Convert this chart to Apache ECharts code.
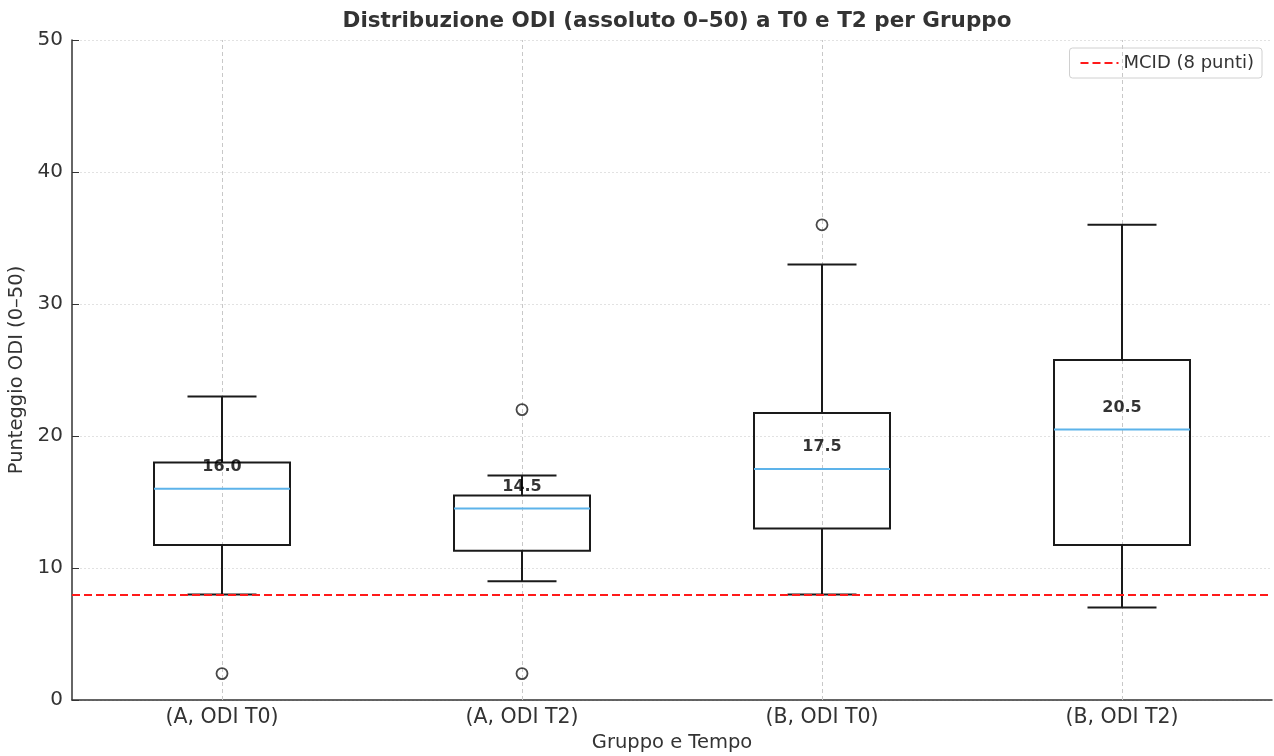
<!DOCTYPE html>
<html>
<head>
<meta charset="utf-8">
<script src="https://cdn.jsdelivr.net/npm/echarts@6/dist/echarts.min.js"></script>
<style>html,body{margin:0;padding:0;background:#fff;}#chart{width:1274px;height:756px;}</style>
</head>
<body>
<div id="chart"></div>
<script>
const categories = ['(A, ODI T0)', '(A, ODI T2)', '(B, ODI T0)', '(B, ODI T2)'];
const whiskerLow = [8, 9, 8, 7];
const q1 = [11.75, 11.3, 13, 11.75];
const medians = [16.0, 14.5, 17.5, 20.5];
const q3 = [18, 15.5, 21.75, 25.75];
const whiskerHigh = [23, 17, 33, 36];
const outliers = [[0, 2], [1, 22], [1, 2], [2, 36]];
const mcid = 8;
const yTicks = { min: 0, max: 50, interval: 10 };

const FONT = 'DejaVu Sans';
const boxData = categories.map((c, i) => [i, whiskerLow[i], q1[i], medians[i], q3[i], whiskerHigh[i]]);
const medianLabels = categories.map((c, i) => [i, medians[i]]);

const chart = echarts.init(document.getElementById('chart'));
chart.setOption({
  animation: false,
  backgroundColor: '#fff',
  textStyle: { fontFamily: FONT },
  title: {
    text: 'Distribuzione ODI (assoluto 0–50) a T0 e T2 per Gruppo',
    left: 672, textAlign: 'center', top: 5,
    textStyle: { fontFamily: FONT, fontSize: 21.5, fontWeight: 'bold', color: '#333' }
  },
  legend: {
    right: 12, top: 48,
    data: [{ name: 'MCID (8 punti)', itemStyle: { opacity: 0 } }],
    borderColor: '#d0d0d0', borderWidth: 1, borderRadius: 3,
    padding: [6, 8, 6, 10],
    itemWidth: 38, itemHeight: 14, itemGap: 10,
    textStyle: { fontFamily: FONT, fontSize: 18, color: '#333' }
  },
  grid: { left: 72, right: 2, top: 40, bottom: 56, containLabel: false, outerBoundsMode: 'none' },
  xAxis: {
    type: 'category',
    data: categories,
    name: 'Gruppo e Tempo',
    nameLocation: 'middle', nameGap: 33,
    nameTextStyle: { fontFamily: FONT, fontSize: 19.5, color: '#333' },
    axisLine: { lineStyle: { color: '#333', width: 1.5 } },
    axisTick: { alignWithLabel: true, inside: true, length: 7, lineStyle: { color: '#333' } },
    axisLabel: { fontFamily: FONT, fontSize: 20.5, color: '#333', margin: 7 },
    splitLine: { show: false }
  },
  yAxis: {
    type: 'value',
    min: yTicks.min, max: yTicks.max, interval: yTicks.interval,
    name: 'Punteggio ODI (0–50)',
    nameLocation: 'middle', nameGap: 43,
    nameTextStyle: { fontFamily: FONT, fontSize: 19.5, color: '#333' },
    axisLine: { show: true, lineStyle: { color: '#333', width: 1.5 } },
    axisTick: { show: true, inside: true, length: 7, lineStyle: { color: '#333' } },
    axisLabel: { fontFamily: FONT, fontSize: 20, color: '#333', margin: 9 },
    splitLine: { show: true, lineStyle: { color: '#e2e2e2', type: [2, 2], width: 1 } }
  },
  series: [
    {
      type: 'custom',
      name: 'box',
      data: boxData,
      z: 3,
      renderItem: function (params, api) {
        const x = api.value(0);
        const band = api.size([1, 0])[0];
        const bw = band * 0.4533;
        const cw = band * 0.23;
        const cx = api.coord([x, 0])[0];
        const yLow = api.coord([x, api.value(1)])[1];
        const yQ1 = api.coord([x, api.value(2)])[1];
        const yMed = api.coord([x, api.value(3)])[1];
        const yQ3 = api.coord([x, api.value(4)])[1];
        const yHigh = api.coord([x, api.value(5)])[1];
        const blk = { stroke: '#1a1a1a', lineWidth: 2, fill: null };
        return {
          type: 'group',
          children: [
            { type: 'line', shape: { x1: cx, y1: yQ3, x2: cx, y2: yHigh }, style: blk },
            { type: 'line', shape: { x1: cx, y1: yQ1, x2: cx, y2: yLow }, style: blk },
            { type: 'line', shape: { x1: cx - cw / 2, y1: yHigh, x2: cx + cw / 2, y2: yHigh }, style: blk },
            { type: 'line', shape: { x1: cx - cw / 2, y1: yLow, x2: cx + cw / 2, y2: yLow }, style: blk },
            { type: 'rect', shape: { x: cx - bw / 2, y: yQ3, width: bw, height: yQ1 - yQ3 }, style: { stroke: '#1a1a1a', lineWidth: 2, fill: 'rgba(0,0,0,0)' } },
            { type: 'line', shape: { x1: cx - bw / 2, y1: yMed, x2: cx + bw / 2, y2: yMed }, style: { stroke: '#5DB3EA', lineWidth: 2 } }
          ]
        };
      }
    },
    {
      type: 'scatter',
      name: 'outliers',
      data: outliers,
      symbol: 'circle',
      symbolSize: 11,
      z: 4,
      itemStyle: { color: 'rgba(0,0,0,0)', borderColor: '#1a1a1a', borderWidth: 1.8 },
      markLine: {
        silent: true, symbol: 'none', z: 1,
        label: { show: false },
        lineStyle: { color: '#c8c8c8', type: [4, 3], width: 1 },
        data: categories.map((c, i) => ({ xAxis: i }))
      }
    },
    {
      type: 'scatter',
      name: 'medianLabels',
      data: medianLabels,
      symbolSize: 0,
      z: 6,
      label: {
        show: true, position: 'top', distance: 14,
        formatter: p => p.value[1].toFixed(1),
        fontFamily: FONT, fontSize: 16, fontWeight: 'bold', color: '#000'
      }
    },
    {
      type: 'line',
      name: 'MCID (8 punti)',
      data: [],
      symbol: 'none',
      showSymbol: false,
      color: '#ff1a1a',
      lineStyle: { color: '#ff1a1a', type: [8, 4], width: 2 },
      markLine: {
        silent: true, symbol: 'none', z: 5,
        label: { show: false },
        lineStyle: { color: '#ff1a1a', type: [8, 4], width: 2 },
        data: [{ yAxis: mcid }]
      }
    }
  ]
});
</script>
</body>
</html>
